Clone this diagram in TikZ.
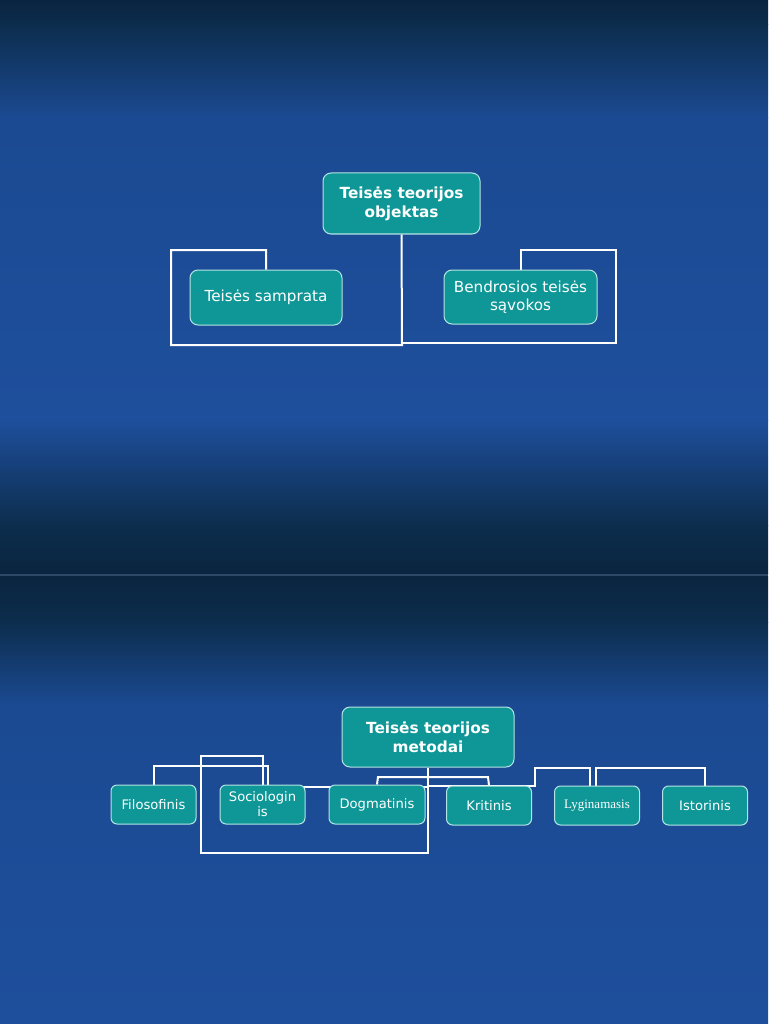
\documentclass[tikz,border=0pt]{standalone}
\usepackage{fontspec}
\setsansfont{DejaVu Sans}
\newfontfamily\serifbox{Liberation Serif}
\usetikzlibrary{positioning}

\definecolor{slidetop}{HTML}{0A2440}
\definecolor{slidedark}{HTML}{0C2D4D}
\definecolor{slideblue}{HTML}{1B4A92}
\definecolor{slidelight}{HTML}{1E4F9C}
\definecolor{slidebottom}{HTML}{0A253F}
\definecolor{slideline}{HTML}{2C4867}
\definecolor{boxfill}{HTML}{0F9797}
\definecolor{boxedge}{HTML}{B5E4E4}

\pgfdeclarelayer{bg}
\pgfdeclarelayer{lines}
\pgfsetlayers{bg,lines,main}

\begin{document}
\begin{tikzpicture}[x=1pt,y=-1pt,
    box/.style={draw=boxedge,fill=boxfill,line width=1pt,rounded corners=8pt,
        text=white,align=center,inner sep=0pt,
        font=\sffamily\fontsize{15.2}{17.5}\selectfont},
    headbox/.style={box,font=\sffamily\bfseries\fontsize{15.3}{19}\selectfont},
    smallbox/.style={box,rounded corners=6pt,minimum width=85pt,minimum height=39pt,
        font=\sffamily\fontsize{13.1}{15}\selectfont},
    link/.style={draw=white,line width=2pt}
]
    \useasboundingbox (0,0) rectangle (768,1024);

    % background of the two slides
    \begin{pgfonlayer}{bg}
        \fill[top color=slidetop,bottom color=slidedark] (0,0) rectangle (768,25);
        \fill[top color=slidedark,bottom color=slideblue] (0,25) rectangle (768,118);
        \fill[top color=slideblue,bottom color=slidelight] (0,118) rectangle (768,420);
        \fill[top color=slidelight,bottom color=slidedark] (0,420) rectangle (768,525);
        \fill[top color=slidedark,bottom color=slidebottom] (0,525) rectangle (768,574);
        \fill[slideline] (0,574) rectangle (768,576.5);
        \fill[top color=slidebottom,bottom color=slidedark] (0,576.5) rectangle (768,622);
        \fill[top color=slidedark,bottom color=slideblue] (0,622) rectangle (768,705);
        \fill[top color=slideblue,bottom color=slidelight] (0,705) rectangle (768,1024);
    \end{pgfonlayer}

    % first slide
    \node[headbox,minimum width=157pt,minimum height=61pt] (objektas) at (401.5,203.5)
        {Teisės teorijos\\objektas};
    \node[box,minimum width=152pt,minimum height=55pt] (samprata) at (266,297.5)
        {Teisės samprata};
    \node[box,minimum width=153pt,minimum height=54pt] (savokos) at (520.5,297)
        {Bendrosios teisės\\sąvokos};

    \begin{pgfonlayer}{lines}
        \draw[link] (objektas.south) -- (402,345) -- (171,345) -- (171,250)
            -- (samprata.north |- 0,250) -- (samprata.north);
        \draw[link] (402,343) -- (616,343) -- (616,250)
            -- (savokos.north |- 0,250) -- (savokos.north);
    \end{pgfonlayer}

    % second slide
    \node[headbox,minimum width=172pt,minimum height=60pt] (metodai) at (428,737)
        {Teisės teorijos\\metodai};
    \foreach \name/\x/\y/\text in {
        filosofinis/153.5/804.5/Filosofinis,
        sociologinis/262.5/804.5/Sociologin\\is,
        kritinis/489/805.5/Kritinis,
        istorinis/705/805.5/Istorinis} {
        \node[smallbox] (\name) at (\x,\y) {\text};
    }
    \node[smallbox,minimum width=96pt] (dogmatinis) at (377,804.5) {Dogmatinis};
    \node[smallbox,font=\serifbox\fontsize{13}{15}\selectfont] (lyginamasis)
        at (597,805.5) {Lyginamasis};

    \begin{pgfonlayer}{lines}
        \draw[link] (metodai.south) -- (428,853) -- (201,853) -- (201,756)
            -- (263,756) -- (263,785);
        \draw[link] (428,787) -- (268,787) -- (268,766)
            -- (filosofinis.north |- 0,766) -- (filosofinis.north);
        \draw[link] (dogmatinis.north) -- (378,777) -- (488,777) -- (kritinis.north);
        \draw[link] (428,786) -- (535,786) -- (535,768) -- (590,768)
            -- (590,786);
        \draw[link] (596,786) -- (596,768) -- (istorinis.north |- 0,768)
            -- (istorinis.north);
    \end{pgfonlayer}

\end{tikzpicture}
\end{document}
